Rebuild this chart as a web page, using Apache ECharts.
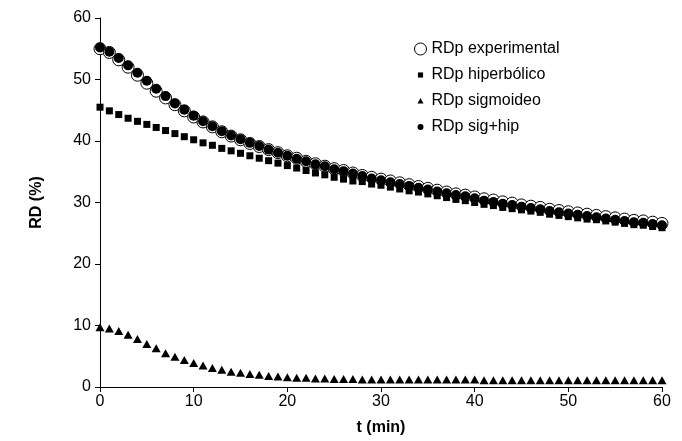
<!DOCTYPE html>
<html>
<head>
<meta charset="utf-8">
<script src="https://cdn.jsdelivr.net/npm/echarts@6/dist/echarts.min.js"></script>
<style>
  html, body { margin: 0; padding: 0; background: #fff; }
  #main { width: 682px; height: 441px; }
</style>
</head>
<body>
<div id="main"></div>
<script>
// tiempo (min), 0..60
var tiempo = [];
for (var i = 0; i <= 60; i++) tiempo.push(i);

var rdExperimental = [
  55.0, 54.4, 53.2, 52.0, 50.7, 49.4, 48.1, 47.0, 45.9, 44.9,
  43.9, 43.1, 42.3, 41.5, 40.8, 40.2, 39.6, 39.1, 38.6, 38.1,
  37.6, 37.2, 36.7, 36.3, 35.9, 35.5, 35.2, 34.8, 34.4, 34.1,
  33.8, 33.5, 33.2, 32.9, 32.6, 32.3, 32.0, 31.7, 31.4, 31.2,
  30.9, 30.6, 30.4, 30.1, 29.9, 29.6, 29.4, 29.2, 28.9, 28.7,
  28.5, 28.3, 28.1, 27.9, 27.7, 27.5, 27.3, 27.1, 27.0, 26.8,
  26.6
];
var rdHiperbolico = [
  45.5, 44.9, 44.3, 43.7, 43.2, 42.7, 42.2, 41.7, 41.2, 40.7,
  40.2, 39.7, 39.3, 38.8, 38.4, 38.0, 37.6, 37.2, 36.8, 36.4,
  36.0, 35.6, 35.2, 34.8, 34.5, 34.1, 33.8, 33.5, 33.4, 33.0,
  32.8, 32.5, 32.2, 31.9, 31.7, 31.4, 31.1, 30.8, 30.5, 30.3,
  30.0, 29.7, 29.5, 29.2, 29.0, 28.8, 28.6, 28.4, 28.1, 27.9,
  27.7, 27.5, 27.3, 27.2, 27.0, 26.8, 26.6, 26.4, 26.3, 26.1,
  25.9
];
var rdSigmoideo = [
  9.7, 9.5, 9.1, 8.5, 7.8, 7.0, 6.3, 5.5, 4.9, 4.4,
  3.9, 3.5, 3.1, 2.8, 2.5, 2.3, 2.1, 2.0, 1.8, 1.7,
  1.6, 1.5, 1.5, 1.4, 1.4, 1.3, 1.3, 1.3, 1.2, 1.2,
  1.2, 1.2, 1.2, 1.2, 1.2, 1.2, 1.2, 1.2, 1.2, 1.2,
  1.2, 1.1, 1.1, 1.1, 1.1, 1.1, 1.1, 1.1, 1.1, 1.1,
  1.1, 1.1, 1.1, 1.1, 1.1, 1.1, 1.1, 1.1, 1.1, 1.1,
  1.1
];
var rdSigHip = [
  55.2, 54.5, 53.5, 52.3, 51.1, 49.8, 48.5, 47.3, 46.1, 45.1,
  44.1, 43.2, 42.4, 41.6, 40.9, 40.3, 39.7, 39.2, 38.6, 38.1,
  37.6, 37.1, 36.7, 36.2, 35.9, 35.4, 35.1, 34.7, 34.3, 33.9,
  33.6, 33.3, 33.0, 32.7, 32.4, 32.1, 31.8, 31.5, 31.2, 31.0,
  30.7, 30.3, 30.1, 29.8, 29.6, 29.3, 29.1, 28.9, 28.6, 28.4,
  28.2, 28.0, 27.8, 27.6, 27.4, 27.2, 27.0, 26.8, 26.7, 26.5,
  26.3
];

function pares(ys) {
  return tiempo.map(function (t, i) { return [t, ys[i]]; });
}

var fuente = '"Liberation Sans", Arial, sans-serif';
var chart = echarts.init(document.getElementById('main'));

var option = {
  animation: false,
  backgroundColor: '#fff',
  textStyle: { fontFamily: fuente, color: '#000' },
  grid: { left: 100, right: 20, top: 18, bottom: 51, containLabel: false },
  legend: {
    orient: 'vertical',
    left: 409,
    top: 36,
    itemWidth: 12,
    itemHeight: 12,
    itemGap: 10,
    textStyle: { fontFamily: fuente, fontSize: 16, color: '#000' },
    data: [
      { name: 'RDp experimental', icon: 'circle', itemStyle: { color: '#fff', borderColor: '#000', borderWidth: 1 } },
      { name: 'RDp hiperbólico', icon: 'path://M0,0 M4,4 L10,4 L10,10 L4,10 Z M14,14', itemStyle: { color: '#000' } },
      { name: 'RDp sigmoideo', icon: 'path://M0,0 M7,3.5 L10.5,10 L3.5,10 Z M14,14', itemStyle: { color: '#000' } },
      { name: 'RDp sig+hip', icon: 'path://M0,0 M7,3.5 A3.5,3.5 0 1 1 6.99,3.5 Z M14,14', itemStyle: { color: '#000' } }
    ]
  },
  xAxis: {
    type: 'value',
    min: 0, max: 60, interval: 10,
    name: 't (min)',
    nameLocation: 'middle',
    nameGap: 33,
    nameTextStyle: { fontFamily: fuente, fontSize: 16, fontWeight: 'bold', color: '#000' },
    axisLine: { lineStyle: { color: '#000', width: 1 } },
    axisTick: { length: 5, lineStyle: { color: '#000' } },
    axisLabel: { fontFamily: fuente, fontSize: 16, color: '#000', margin: 7 },
    splitLine: { show: false }
  },
  yAxis: {
    type: 'value',
    min: 0, max: 60, interval: 10,
    name: 'RD (%)',
    nameLocation: 'middle',
    nameGap: 55,
    nameTextStyle: { fontFamily: fuente, fontSize: 16, fontWeight: 'bold', color: '#000' },
    axisLine: { show: true, lineStyle: { color: '#000', width: 1 } },
    axisTick: { show: true, length: 5, lineStyle: { color: '#000' } },
    axisLabel: { fontFamily: fuente, fontSize: 16, color: '#000', margin: 9 },
    splitLine: { show: false }
  },
  series: [
    {
      name: 'RDp experimental', type: 'scatter', symbol: 'circle', symbolSize: 12,
      itemStyle: { color: '#fff', borderColor: '#000', borderWidth: 1, opacity: 1 },
      data: pares(rdExperimental)
    },
    {
      name: 'RDp hiperbólico', type: 'scatter', symbol: 'rect', symbolSize: 7,
      itemStyle: { color: '#000', opacity: 1 },
      data: pares(rdHiperbolico)
    },
    {
      name: 'RDp sigmoideo', type: 'scatter', symbol: 'triangle', symbolSize: [9, 8],
      itemStyle: { color: '#000', opacity: 1 },
      data: pares(rdSigmoideo)
    },
    {
      name: 'RDp sig+hip', type: 'scatter', symbol: 'circle', symbolSize: 10,
      itemStyle: { color: '#000', opacity: 1 },
      data: pares(rdSigHip)
    }
  ]
};

chart.setOption(option);
</script>
</body>
</html>
